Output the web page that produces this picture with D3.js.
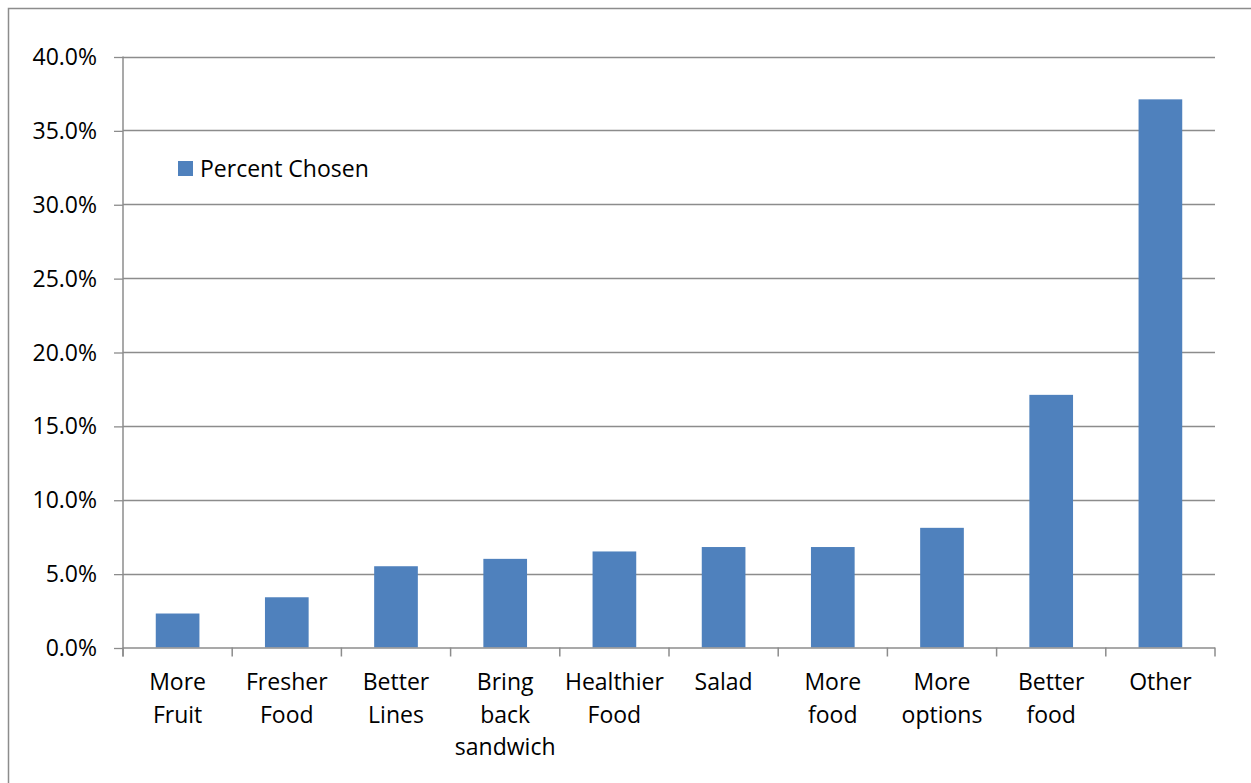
<!DOCTYPE html>
<html>
<head>
<meta charset="utf-8">
<script src="https://cdn.jsdelivr.net/npm/d3@7"></script>
<style>
  html, body { margin: 0; padding: 0; background: #fff; }
  svg { display: block; }
  text { font-family: "Open Sans", "Noto Sans", sans-serif; fill: #000; }
</style>
</head>
<body>
<svg id="chart" width="1251" height="783"></svg>
<script>
// Survey responses: share of respondents choosing each improvement
const categories = [
  ["More", "Fruit"],
  ["Fresher", "Food"],
  ["Better", "Lines"],
  ["Bring", "back", "sandwich"],
  ["Healthier", "Food"],
  ["Salad"],
  ["More", "food"],
  ["More", "options"],
  ["Better", "food"],
  ["Other"]
];
const percentChosen = [0.023, 0.034, 0.055, 0.060, 0.065, 0.068, 0.068, 0.081, 0.171, 0.371];
const yTicks = [0, 0.05, 0.10, 0.15, 0.20, 0.25, 0.30, 0.35, 0.40];
const seriesName = "Percent Chosen";

const svg = d3.select("#chart");
const plot = { left: 123, right: 1215, top: 56.5, bottom: 647.5 };
const gridColor = "#8c8c8c";
const barColor = "#4f81bd";
const fontSize = 23;

// outer chart frame
svg.append("rect")
  .attr("x", 8.5).attr("y", 8.5)
  .attr("width", 1300).attr("height", 900)
  .attr("fill", "none").attr("stroke", "#8c8c8c").attr("stroke-width", 1.5);

const keys = categories.map((c, i) => i);
const x = d3.scaleBand()
  .domain(keys)
  .range([plot.left, plot.right])
  .paddingInner(0.6)
  .paddingOuter(0.3);

const y = d3.scaleLinear()
  .domain([0, 0.40])
  .range([plot.bottom, plot.top]);

// horizontal gridlines
svg.append("g")
  .selectAll("line")
  .data(yTicks.slice(1))
  .join("line")
  .attr("x1", plot.left).attr("x2", plot.right)
  .attr("y1", d => Math.round(y(d)) + 0.5).attr("y2", d => Math.round(y(d)) + 0.5)
  .attr("stroke", gridColor).attr("stroke-width", 1.3);

// bars
svg.append("g")
  .selectAll("rect")
  .data(percentChosen)
  .join("rect")
  .attr("x", (d, i) => x(i))
  .attr("width", x.bandwidth())
  .attr("y", d => y(d))
  .attr("height", d => y(0) - y(d))
  .attr("fill", barColor);

// y axis
const yAxis = svg.append("g")
  .attr("transform", `translate(${plot.left},0)`)
  .call(d3.axisLeft(y)
    .tickValues(yTicks)
    .tickFormat(d3.format(".1%"))
    .tickSize(9)
    .tickPadding(17));
yAxis.select(".domain").remove();
yAxis.selectAll(".tick line")
  .attr("stroke", gridColor).attr("stroke-width", 1.3)
  .attr("transform", "translate(0,0.5)");
yAxis.selectAll(".tick text")
  .attr("font-size", fontSize)
  .attr("font-family", "'Open Sans', sans-serif")
  .attr("fill", "#000")
  .attr("dy", "0.35em");

// y axis line (extends down to the category tick length)
svg.append("line")
  .attr("x1", plot.left).attr("x2", plot.left)
  .attr("y1", plot.top).attr("y2", plot.bottom + 9)
  .attr("stroke", gridColor).attr("stroke-width", 1.5);

// x axis baseline
svg.append("line")
  .attr("x1", plot.left).attr("x2", plot.right)
  .attr("y1", y(0) + 0.5).attr("y2", y(0) + 0.5)
  .attr("stroke", gridColor).attr("stroke-width", 1.5);

// category boundary ticks
const boundaries = d3.range(categories.length + 1).map(i => plot.left + i * x.step());
svg.append("g")
  .selectAll("line")
  .data(boundaries)
  .join("line")
  .attr("x1", d => d).attr("x2", d => d)
  .attr("y1", y(0)).attr("y2", y(0) + 9)
  .attr("stroke", gridColor).attr("stroke-width", 1.5);

// category labels
const labels = svg.append("g")
  .selectAll("text")
  .data(categories)
  .join("text")
  .attr("x", (d, i) => x(i) + x.bandwidth() / 2)
  .attr("y", 690)
  .attr("text-anchor", "middle")
  .attr("font-size", fontSize);
labels.selectAll("tspan")
  .data(d => d)
  .join("tspan")
  .attr("x", function () { return this.parentNode.getAttribute("x"); })
  .attr("dy", (d, i) => i === 0 ? 0 : 32.7)
  .text(d => d);

// legend
const legend = svg.append("g").attr("transform", "translate(178,161)");
legend.append("rect")
  .attr("width", 15).attr("height", 15)
  .attr("fill", barColor);
legend.append("text")
  .attr("x", 22).attr("y", 15.5)
  .attr("font-size", fontSize)
  .text(seriesName);
</script>
</body>
</html>
